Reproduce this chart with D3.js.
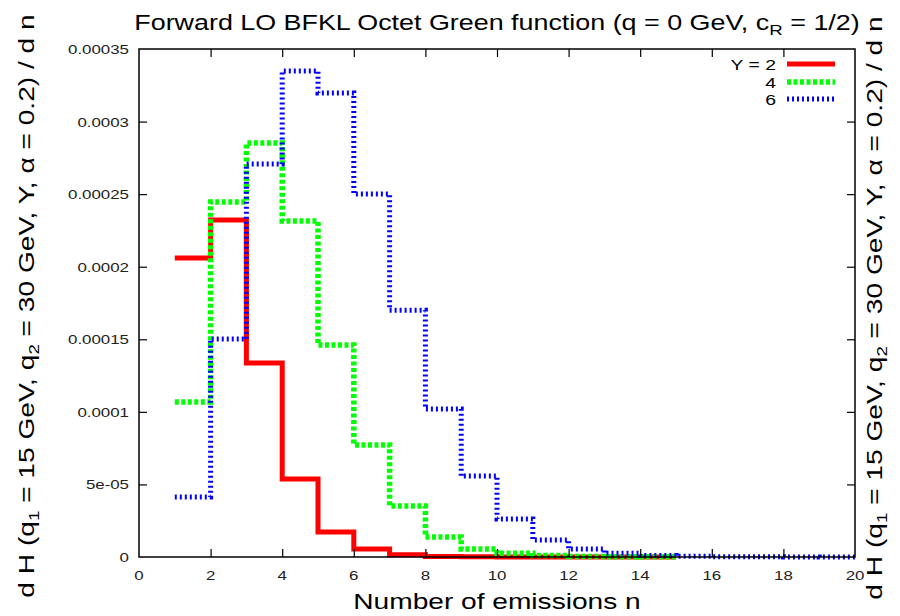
<!DOCTYPE html>
<html>
<head>
<meta charset="utf-8">
<script src="https://cdn.jsdelivr.net/npm/d3@7"></script>
<style>
  html, body { margin: 0; padding: 0; background: #fff; }
  svg { display: block; font-family: "Liberation Sans", Arial, Helvetica, sans-serif; }
</style>
</head>
<body>
<svg id="chart" width="900" height="616"></svg>
<script>
// Bin lower edges (number of emissions n); each bin spans [n, n+1]
const binsY2 = d3.range(1, 15);
const binsY4 = d3.range(1, 15);
const binsY6 = d3.range(1, 20);

// dH/dn for rapidity Y = 2, 4, 6
const valuesY2 = [0.0002060, 0.0002322, 0.0001337, 0.0000537, 0.0000172, 0.0000055, 0.0000015,
                  0.0000004, 0.0000001, 0.00000003, 0.00000001, 0, 0, 0];
const valuesY4 = [0.0001068, 0.0002446, 0.0002852, 0.0002315, 0.0001461, 0.0000772, 0.0000351,
                  0.0000138, 0.0000055, 0.0000025, 0.0000010, 0.0000004, 0.0000002, 0.0000001];
const valuesY6 = [0.0000413, 0.0001502, 0.0002708, 0.0003348, 0.0003197, 0.0002501, 0.0001700,
                  0.0001020, 0.0000558, 0.0000262, 0.0000117, 0.0000055, 0.0000025, 0.0000010,
                  0.0000005, 0.0000002, 0.0000001, 0.00000005, 0.00000002];

const seriesNames = ["Y = 2", "4", "6"];

const xTicks = d3.range(0, 21, 2);
const xTickLabels = xTicks.map(String);
const yTicks = [0, 0.00005, 0.0001, 0.00015, 0.0002, 0.00025, 0.0003, 0.00035];
const yTickLabels = ["0", "5e-05", "0.0001", "0.00015", "0.0002", "0.00025", "0.0003", "0.00035"];

const titleText = "Forward LO BFKL Octet Green function (q = 0 GeV, c";
const xLabelText = "Number of emissions n";

const svg = d3.select("#chart");
const margin = { left: 139, right: 45, top: 49, bottom: 59 };
const W = 900, H = 616;

const x = d3.scaleLinear().domain([0, 20]).range([margin.left, W - margin.right]);
const y = d3.scaleLinear().domain([0, 0.00035]).range([H - margin.bottom, margin.top]);

const SX = 1.25; // horizontal glyph stretch

function stretchedText(g, px, py, anchor, size) {
  return g.append("text")
    .attr("transform", `translate(${px},${py}) scale(${SX},1)`)
    .attr("text-anchor", anchor)
    .attr("font-size", size)
    .attr("fill", "#000");
}

// Series: red solid, green dashed, blue dotted
const series = [
  { bins: binsY2, values: valuesY2, color: "#ff0000", width: 5, dash: null },
  { bins: binsY4, values: valuesY4, color: "#00ff00", width: 5.5, dash: "4,2.5" },
  { bins: binsY6, values: valuesY6, color: "#0000ff", width: 5, dash: "2,3" }
];

const line = d3.line()
  .x(d => x(d[0]))
  .y(d => y(d[1]))
  .curve(d3.curveStepAfter);

series.forEach(s => {
  const pts = s.bins.map((n, i) => [n, s.values[i]]);
  const last = s.bins.length - 1;
  pts.push([s.bins[last] + 1, s.values[last]]);
  svg.append("path")
    .attr("d", line(pts))
    .attr("fill", "none")
    .attr("stroke", s.color)
    .attr("stroke-width", s.width)
    .attr("stroke-dasharray", s.dash)
    .attr("stroke-linejoin", "miter");
});

// Frame
const x0 = x(0), x1 = x(20), y0 = y(0), y1 = y(0.00035);
svg.append("rect")
  .attr("x", x0).attr("y", y1)
  .attr("width", x1 - x0).attr("height", y0 - y1)
  .attr("fill", "none").attr("stroke", "#000").attr("stroke-width", 1.5);

// Axes: inward ticks on all four sides
const tickLen = 8;
const axB = d3.axisBottom(x).tickValues(xTicks).tickSizeInner(-tickLen).tickSizeOuter(0);
const axT = d3.axisTop(x).tickValues(xTicks).tickSizeInner(-tickLen).tickSizeOuter(0);
const axL = d3.axisLeft(y).tickValues(yTicks).tickSizeInner(-tickLen).tickSizeOuter(0);
const axR = d3.axisRight(y).tickValues(yTicks).tickSizeInner(-tickLen).tickSizeOuter(0);

function styleAxis(g) {
  g.select(".domain").remove();
  g.selectAll(".tick line").attr("stroke", "#000").attr("stroke-width", 1.2);
  g.selectAll(".tick text").remove();
}

const gB = svg.append("g").attr("transform", `translate(0,${y0})`).call(axB);
const gT = svg.append("g").attr("transform", `translate(0,${y1})`).call(axT);
const gL = svg.append("g").attr("transform", `translate(${x0},0)`).call(axL);
const gR = svg.append("g").attr("transform", `translate(${x1},0)`).call(axR);
[gB, gT, gL, gR].forEach(styleAxis);
// skip ticks that sit on the frame corners
[gB, gT].forEach(g => g.selectAll(".tick").filter(d => d === 0 || d === 20).remove());
[gL, gR].forEach(g => g.selectAll(".tick").filter(d => d === 0 || d === 0.00035).remove());

// Tick labels
const labels = svg.append("g");
xTicks.forEach((t, i) => {
  stretchedText(labels, x(t), y0 + 23, "middle", 13.5).attr("fill", "#222").text(xTickLabels[i]);
});
yTicks.forEach((t, i) => {
  stretchedText(labels, x0 - 10, y(t) + 5, "end", 13.5).attr("fill", "#222").text(yTickLabels[i]);
});

// Title
const title = stretchedText(svg, 497, 30, "middle", 21.5);
title.append("tspan").text(titleText);
title.append("tspan").attr("font-size", 15).attr("dy", 5).text("R");
title.append("tspan").attr("dy", -5).text(" = 1/2)");

// X label
stretchedText(svg, 497, 609, "middle", 22.5).text(xLabelText);

// Y labels (left and right)
function yLabel(px, py) {
  const t = svg.append("text")
    .attr("transform", `translate(${px},${py}) rotate(-90) scale(${SX},1)`)
    .attr("text-anchor", "middle")
    .attr("font-size", 22.5)
    .attr("fill", "#000");
  t.append("tspan").text("d H (q");
  t.append("tspan").attr("font-size", 15).attr("dy", 5).text("1");
  t.append("tspan").attr("dy", -5).text(" = 15 GeV, q");
  t.append("tspan").attr("font-size", 15).attr("dy", 5).text("2");
  t.append("tspan").attr("dy", -5).text(" = 30 GeV, Y, \u03b1 = 0.2) / d n");
}
yLabel(34, 306);
yLabel(882, 308);

// Legend
const legendRows = [64, 82, 99];
series.forEach((s, i) => {
  stretchedText(svg, 776, legendRows[i] + 6, "end", 15.5).text(seriesNames[i]);
  svg.append("line")
    .attr("x1", 787).attr("x2", 835)
    .attr("y1", legendRows[i]).attr("y2", legendRows[i])
    .attr("stroke", s.color)
    .attr("stroke-width", s.width)
    .attr("stroke-dasharray", s.dash);
});
</script>
</body>
</html>
